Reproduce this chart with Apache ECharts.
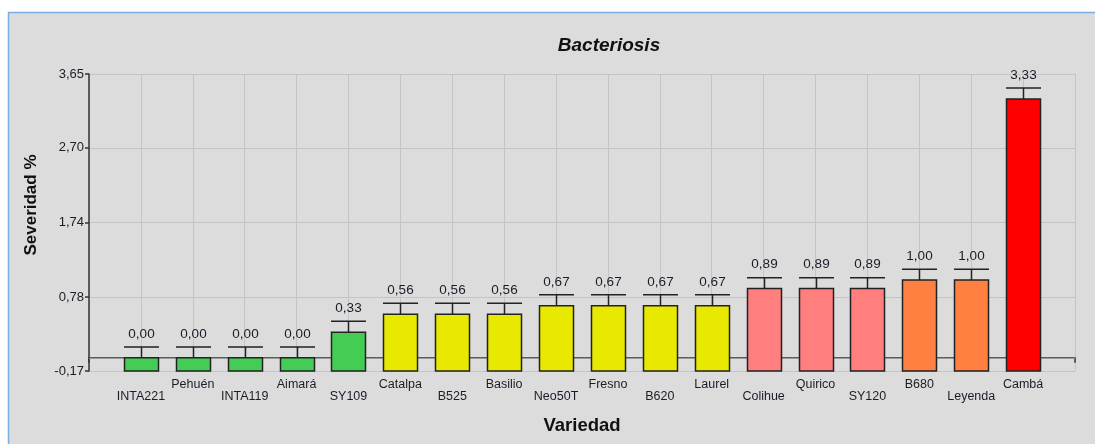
<!DOCTYPE html>
<html>
<head>
<meta charset="utf-8">
<script src="https://cdn.jsdelivr.net/npm/echarts@6/dist/echarts.min.js"></script>
<style>
html,body{margin:0;padding:0;background:#fff;}
#c{width:1095px;height:444px;}
</style>
</head>
<body>
<div id="c"></div>
<script>
// ---- data ----
const categories = ['INTA221','Pehuén','INTA119','Aimará','SY109','Catalpa','B525','Basilio','Neo50T','Fresno','B620','Laurel','Colihue','Quirico','SY120','B680','Leyenda','Cambá'];
const values = [0.00,0.00,0.00,0.00,0.33,0.56,0.56,0.56,0.67,0.67,0.67,0.67,0.89,0.89,0.89,1.00,1.00,3.33];
const errors = [0.14,0.14,0.14,0.14,0.14,0.14,0.14,0.14,0.14,0.14,0.14,0.14,0.14,0.14,0.14,0.14,0.14,0.14];
const groups = [0,0,0,0,0,1,1,1,1,1,1,1,2,2,2,3,3,4];
const yTicks = [-0.17,0.78,1.74,2.70,3.65];
const titleText = 'Bacteriosis';
const xName = 'Variedad';
const yName = 'Severidad %';

// ---- styles ----
const palette = ['#45CC55','#E8E800','#FF7F7F','#FF8040','#FF0000'];
const FONT = '"Liberation Sans", Arial, sans-serif';
const TXT = '#1c1c28';
const yMin = yTicks[0], yMax = yTicks[yTicks.length-1];

const axisCats = [''].concat(categories, ['']);
const fmt = v => v.toFixed(2).replace('.', ',');

const chart = echarts.init(document.getElementById('c'), null, {renderer:'canvas'});
chart.setOption({
  animation:false,
  backgroundColor:'#ffffff',
  graphic:[
    {type:'rect', z:-10, shape:{x:8.5,y:12.5,width:1100,height:450}, style:{fill:'#dcdcdc', stroke:'#7aaee0', lineWidth:1.5}},
    {type:'text', z:10, x:609, y:46, style:{text:titleText, font:'italic bold 19px '+FONT, fill:'#111', textAlign:'center', textVerticalAlign:'middle'}},
    {type:'text', z:10, x:582, y:426, style:{text:xName, font:'bold 18.5px '+FONT, fill:'#111', textAlign:'center', textVerticalAlign:'middle'}},
    {type:'text', z:10, x:31, y:205, rotation:Math.PI/2, style:{text:yName, font:'bold 17px '+FONT, fill:'#111', textAlign:'center', textVerticalAlign:'middle'}}
  ],
  grid:{left:89, right:20, top:74, bottom:73, containLabel:false},
  xAxis:{
    type:'category', data:axisCats, boundaryGap:false,
    axisLine:{lineStyle:{color:'#333', width:1.5}},
    axisTick:{show:true, length:5, inside:false, alignWithLabel:true, lineStyle:{color:'#333', width:1.5}},
    axisLabel:{interval:0, margin:8, color:TXT, fontFamily:FONT, fontSize:12.5, lineHeight:12,
      formatter:(v, i)=> (i % 2 === 1 ? '\n' + v : v)},
    splitLine:{show:true, lineStyle:{color:'#c4c4c4', width:1}}
  },
  yAxis:{
    type:'value', min:yMin, max:yMax,
    axisLine:{show:true, lineStyle:{color:'#333', width:1.5}},
    axisTick:{show:true, length:4, customValues:yTicks, lineStyle:{color:'#333', width:1.5}},
    axisLabel:{customValues:yTicks, margin:5, color:TXT, fontFamily:FONT, fontSize:13, formatter:v=>fmt(v)},
    splitLine:{show:true, lineStyle:{color:'#c4c4c4', width:1}}
  },
  series:[
    {
      type:'line', z:1, silent:true, data:axisCats.map(()=>null), showSymbol:false,
      markLine:{z:1, silent:true, symbol:['none','none'], label:{show:false}, lineStyle:{color:'#9a9a9a', type:'solid', width:1}, data:[{yAxis:0}]}
    },
    {
    type:'custom', z:3,
    data: values.map((v,i)=>[i+1, v, errors[i], groups[i]]),
    encode:{x:0, y:1},
    clip:false,
    renderItem:(params, api)=>{
      const x = api.value(0), v = api.value(1), e = api.value(2), g = api.value(3);
      const base = api.coord([x, yMin]);
      const top = api.coord([x, v]);
      const cap = api.coord([x, v + e]);
      const w = 34;
      const cx = Math.round(base[0]) + 0.5;
      return {type:'group', children:[
        {type:'line', shape:{x1:cx, y1:top[1], x2:cx, y2:cap[1]}, style:{stroke:'#222', lineWidth:1.5}},
        {type:'line', shape:{x1:cx - w/2 - 0.5, y1:cap[1], x2:cx + w/2 + 0.5, y2:cap[1]}, style:{stroke:'#222', lineWidth:1.5}},
        {type:'rect', shape:{x:cx - w/2, y:top[1], width:w, height:base[1]-top[1]}, style:{fill:palette[g], stroke:'#222', lineWidth:1.5}},
        {type:'text', x:cx, y:cap[1] - 6, style:{text:fmt(v), font:'13.5px '+FONT, fill:TXT, textAlign:'center', textVerticalAlign:'bottom'}}
      ]};
    }
  }]
});
</script>
</body>
</html>
